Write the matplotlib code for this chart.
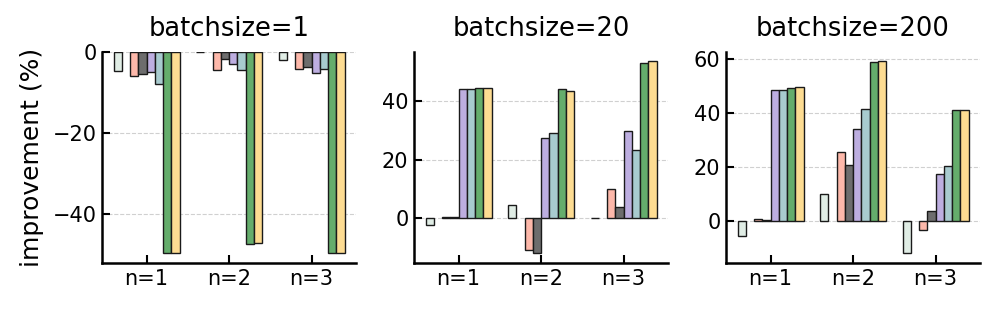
import numpy as np
import matplotlib
matplotlib.use("Agg")
import matplotlib.pyplot as plt

# datos (mejora en %)
grupos = ["n=1", "n=2", "n=3"]
tamanos = ["batchsize=1", "batchsize=20", "batchsize=200"]

colores = ["#e0ede5", "#fdb8aa", "#6d6d6d", "#bdaee0", "#a8cbcf", "#65ad6c", "#fddc92"]
# posicion de cada serie dentro del grupo (la segunda ranura esta vacia)
ranuras = [0, 2, 3, 4, 5, 6, 7]

bs1 = [
    [-4.8, -0.2, -2.0],
    [-6.1, -4.5, -4.3],
    [-5.4, -1.7, -3.7],
    [-5.1, -3.1, -5.2],
    [-7.9, -4.5, -4.2],
    [-49.6, -47.4, -49.6],
    [-49.6, -47.1, -49.6],
]
bs20 = [
    [-2.3, 4.5, 0.3],
    [0.5, -10.7, 10.0],
    [0.5, -11.9, 3.8],
    [44.1, 27.4, 29.8],
    [44.0, 29.0, 23.3],
    [44.3, 44.2, 53.1],
    [44.6, 43.6, 53.6],
]
bs200 = [
    [-5.5, 10.2, -11.8],
    [0.85, 25.7, -3.1],
    [0.6, 20.8, 3.8],
    [48.8, 34.1, 17.7],
    [48.8, 41.8, 20.4],
    [49.5, 59.0, 41.4],
    [49.8, 59.3, 41.4],
]
datos = [bs1, bs20, bs200]

fig, axes = plt.subplots(1, 3, figsize=(9.96, 3.09), dpi=100)
fig.subplots_adjust(left=0.1024, right=0.984, bottom=0.149, top=0.833, wspace=0.228)

ancho = 0.1
x = np.arange(len(grupos))

for ax, titulo, series in zip(axes, tamanos, datos):
    for r, col, vals in zip(ranuras, colores, series):
        ax.bar(x + (r - 3.5) * ancho, vals, ancho, color=col,
               edgecolor="#1a1a1a", linewidth=1.0, zorder=3)
    ax.set_title(titulo, fontsize=18.5, pad=11)
    ax.set_xticks(x)
    ax.set_xticklabels(grupos)
    ax.grid(axis="y", linestyle="--", color="#d0d0d0", linewidth=0.8, zorder=0)
    ax.spines["top"].set_visible(False)
    ax.spines["right"].set_visible(False)
    ax.spines["left"].set_linewidth(1.8)
    ax.spines["bottom"].set_linewidth(1.8)
    ax.tick_params(direction="in", labelsize=15, width=1.5, length=5.5, pad=4)

axes[0].set_ylabel("improvement (%)", fontsize=18, labelpad=6)

plt.savefig("out.png", dpi=100)
